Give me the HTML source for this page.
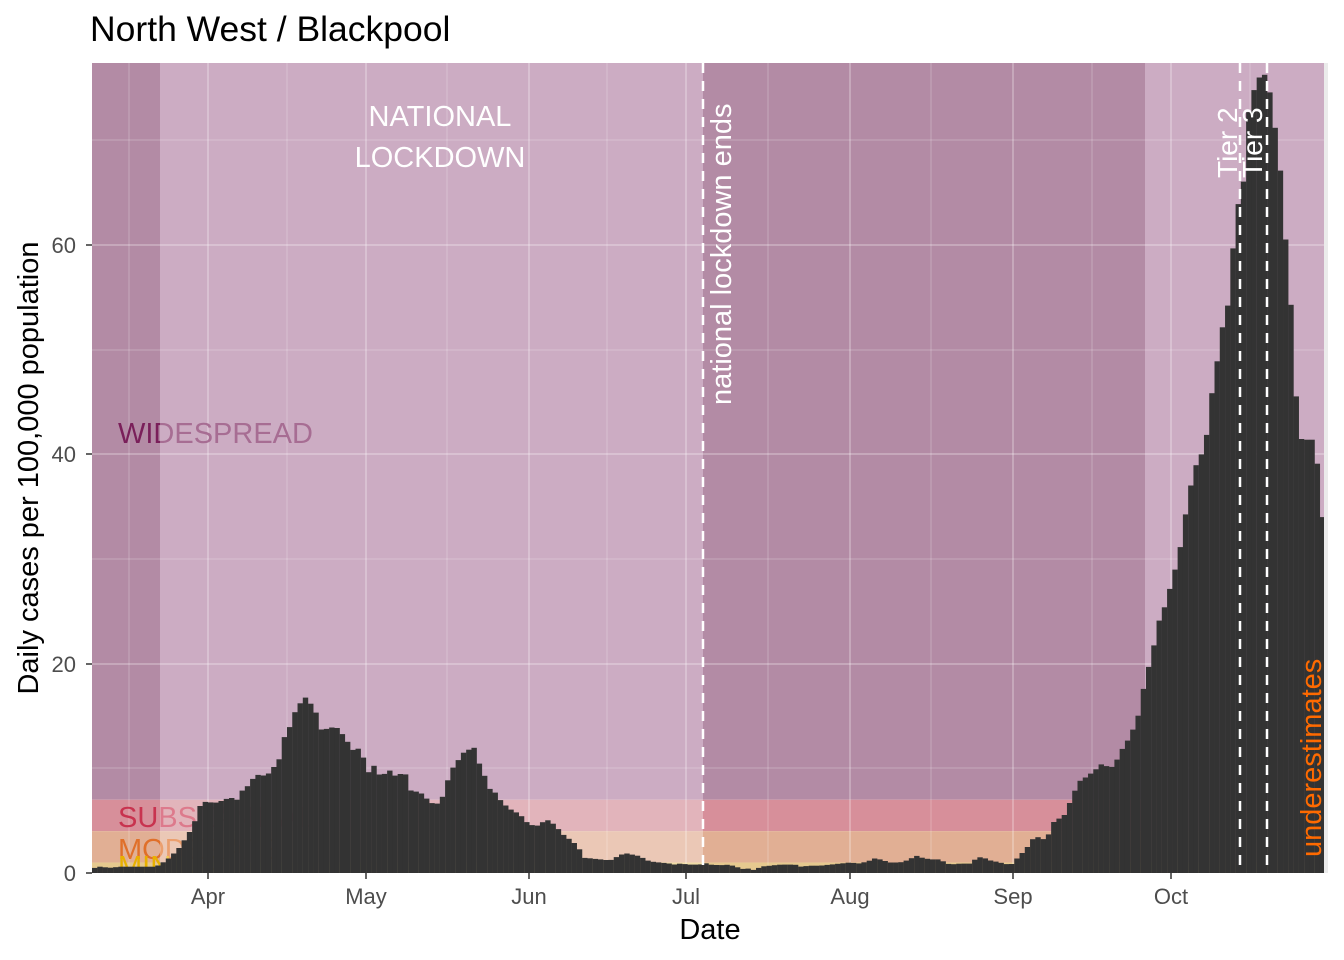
<!DOCTYPE html>
<html><head><meta charset="utf-8"><style>
html,body{margin:0;padding:0;background:#fff;}
svg{display:block;font-family:"Liberation Sans",Arial,sans-serif;}
</style></head><body>
<svg id="s" width="1344" height="960" xmlns="http://www.w3.org/2000/svg">
<defs>
<clipPath id="dk"><rect x="92" y="63" width="68" height="810"/><rect x="703" y="63" width="442" height="810"/></clipPath>
<clipPath id="lt"><rect x="160" y="63" width="543" height="810"/><rect x="1145" y="63" width="179" height="810"/></clipPath>
</defs>
<rect x="1324" y="63" width="4" height="810" fill="#ebebeb"/>
<g id="bg"></g>
<g id="grid" stroke="#ffffff" stroke-opacity="0.25"></g>
<g id="lab" font-size="29"></g>
<g id="bars" fill="#333333"></g>
<g stroke="#fff" stroke-width="2.5" stroke-dasharray="10,8">
<line x1="703" y1="63" x2="703" y2="873"/>
<line x1="1240" y1="63" x2="1240" y2="873"/>
<line x1="1267" y1="63" x2="1267" y2="873"/>
</g>
<text x="440" y="126" font-size="29" fill="#fff" text-anchor="middle">NATIONAL</text>
<text x="440" y="167" font-size="29" fill="#fff" text-anchor="middle">LOCKDOWN</text>
<text transform="translate(731,405) rotate(-90)" font-size="29" fill="#fff">national lockdown ends</text>
<text transform="translate(1237,178) rotate(-90)" font-size="28" fill="#fff">Tier 2</text>
<text transform="translate(1262,178) rotate(-90)" font-size="28" fill="#fff">Tier 3</text>
<text transform="translate(1321,857) rotate(-90)" font-size="29" fill="#ff6a00">underestimates</text>
<text x="90" y="41" font-size="35.5" fill="#000">North West / Blackpool</text>
<g font-size="22" fill="#4d4d4d" text-anchor="end">
<text x="76" y="881">0</text><text x="76" y="672">20</text><text x="76" y="462">40</text><text x="76" y="253">60</text>
</g>
<g stroke="#333" stroke-width="1.5">
<line x1="86" y1="873" x2="92" y2="873"/><line x1="86" y1="664" x2="92" y2="664"/><line x1="86" y1="454" x2="92" y2="454"/><line x1="86" y1="245" x2="92" y2="245"/>
</g>
<g id="xt" font-size="22" fill="#4d4d4d" text-anchor="middle"></g>
<text x="710" y="939" font-size="29" fill="#000" text-anchor="middle">Date</text>
<text transform="translate(38,468) rotate(-90)" font-size="29" fill="#000" text-anchor="middle">Daily cases per 100,000 population</text>
</svg>
<script>
var NS="http://www.w3.org/2000/svg";
function el(p,t,a,txt){var e=document.createElementNS(NS,t);for(var k in a)e.setAttribute(k,a[k]);if(txt)e.textContent=txt;document.getElementById(p).appendChild(e);return e;}
var Y=function(v){return 873-v*10.467;};
var regs=[[92,160,1],[160,703,0],[703,1145,1],[1145,1324,0]];
var cols={1:["#b38ba5","#d78f9a","#e1af94","#e6c98f"],0:["#ccacc3","#e2b4bb","#ebc8b6","#efdca6"]};
regs.forEach(function(r){var c=cols[r[2]],w=r[1]-r[0];
el("bg","rect",{x:r[0],y:63,width:w,height:Y(7)-63,fill:c[0]});
el("bg","rect",{x:r[0],y:Y(7),width:w,height:Y(4)-Y(7),fill:c[1]});
el("bg","rect",{x:r[0],y:Y(4),width:w,height:Y(1)-Y(4),fill:c[2]});
el("bg","rect",{x:r[0],y:Y(1),width:w,height:Y(0)-Y(1),fill:c[3]});});
[140,350,559,768].forEach(function(y){el("grid","line",{x1:92,x2:1324,y1:y,y2:y,"stroke-width":1});});
[245,454,664].forEach(function(y){el("grid","line",{x1:92,x2:1324,y1:y,y2:y,"stroke-width":2});});
var xt=[[208,"Apr"],[366,"May"],[529,"Jun"],[686,"Jul"],[850,"Aug"],[1013,"Sep"],[1171,"Oct"]];
xt.forEach(function(t){el("grid","line",{x1:t[0],x2:t[0],y1:63,y2:873,"stroke-width":2});
el("xt","text",{x:t[0],y:904},t[1]);
var l=document.createElementNS(NS,"line");l.setAttribute("x1",t[0]);l.setAttribute("x2",t[0]);l.setAttribute("y1",873);l.setAttribute("y2",879);l.setAttribute("stroke","#333");l.setAttribute("stroke-width","1.5");document.getElementById("s").appendChild(l);});
[129,287,447,607,768,931,1092,1250].forEach(function(x){el("grid","line",{x1:x,x2:x,y1:63,y2:873,"stroke-width":1});});
var labs=[["WIDESPREAD",443,"#7a1f5a","#a76d93"],["SUBSTANTIAL",827,"#c8334f","#dd7a8c"],["MODERATE",859,"#e0702a","#eb9f6e"],["MINIMAL",876,"#e8b000","#efcc55"]];
labs.forEach(function(l){el("lab","text",{x:118,y:l[1],fill:l[2],"clip-path":"url(#dk)"},l[0]);el("lab","text",{x:118,y:l[1],fill:l[3],"clip-path":"url(#lt)"},l[0]);});
var P=[[90,0.4],[100,0.6],[110,0.5],[120,0.6],[140,0.6],[155,0.6],[160,0.8],[170,1.5],[180,2.5],[190,4],[195,5],[200,6.4],[205,6.8],[215,6.7],[225,7],[230,7.3],[236,6.8],[240,7.7],[250,8.5],[255,9.4],[265,9.3],[270,9.6],[280,11],[285,13.3],[290,14],[295,15.4],[300,16.2],[305,16.8],[315,15.7],[320,13.7],[330,13.8],[335,14.1],[340,13.5],[345,13],[350,12.1],[355,11.5],[360,12.1],[365,10.5],[370,9.3],[375,10.5],[380,9.2],[390,9.8],[395,9.3],[405,9.6],[410,7.9],[420,7.7],[425,7.3],[430,6.7],[440,6.6],[445,8],[450,9.6],[455,10.4],[460,11],[465,11.7],[470,11.8],[475,12],[480,10.2],[485,9.2],[490,8],[495,7.7],[500,7],[505,6.5],[510,6.1],[520,5.6],[525,5],[530,4.6],[540,4.5],[545,5.2],[550,4.9],[555,4.6],[560,4],[565,3.5],[570,3.2],[575,2.8],[580,2.2],[585,1.4],[590,1.4],[600,1.3],[610,1.2],[620,1.7],[625,1.9],[630,1.8],[640,1.6],[645,1.3],[650,1.1],[660,1.0],[670,0.9],[675,0.8],[680,0.9],[690,0.8],[700,0.8],[705,0.95],[710,0.8],[720,0.75],[730,0.8],[735,0.6],[740,0.5],[745,0.3],[750,0.5],[755,0.2],[760,0.6],[770,0.7],[780,0.8],[795,0.8],[800,0.6],[810,0.7],[820,0.7],[830,0.8],[840,0.9],[850,1.0],[860,0.9],[870,1.2],[875,1.4],[880,1.3],[890,1.0],[900,1.0],[910,1.3],[915,1.7],[920,1.5],[930,1.3],[940,1.3],[945,1.0],[950,0.8],[960,0.9],[970,0.9],[975,1.3],[980,1.5],[985,1.4],[990,1.2],[1000,1.0],[1005,0.9],[1010,0.7],[1015,1.2],[1020,1.7],[1025,2.2],[1030,2.8],[1035,3.6],[1040,3.3],[1045,3.2],[1050,3.9],[1055,5.2],[1060,5.2],[1065,5.6],[1070,6.8],[1075,7.9],[1080,8.8],[1085,9.1],[1095,9.8],[1100,10.4],[1105,10.3],[1110,10],[1115,10.4],[1120,11.5],[1125,12.3],[1130,13],[1138,15],[1145,18.4],[1152,20.9],[1160,24.5],[1165,25.5],[1175,29],[1180,31],[1185,34],[1190,36.7],[1195,38.8],[1200,39.6],[1206,41.4],[1211,45.4],[1216,48],[1221,52],[1226,52.5],[1232,58.7],[1237,64],[1242,63.6],[1247,72],[1252,74],[1257,76],[1262,76],[1267,76.5],[1273,72.4],[1278,69.5],[1283,64.4],[1288,57],[1293,52.3],[1298,41.6],[1303,41.4],[1316,41.4],[1320,34],[1326,34]];
function val(x){for(var i=1;i<P.length;i++){if(x<=P[i][0]){var a=P[i-1],b=P[i];return a[1]+(b[1]-a[1])*(x-a[0])/(b[0]-a[0]);}}return P[P.length-1][1];}
for(var x=92;x<1324;x+=5.27){var w=Math.min(5.4,1324-x);var v=val(x+2.6);el("bars","rect",{x:x.toFixed(2),y:Y(v).toFixed(1),width:w.toFixed(2),height:(v*10.467).toFixed(1)});}
</script>
</body></html>
